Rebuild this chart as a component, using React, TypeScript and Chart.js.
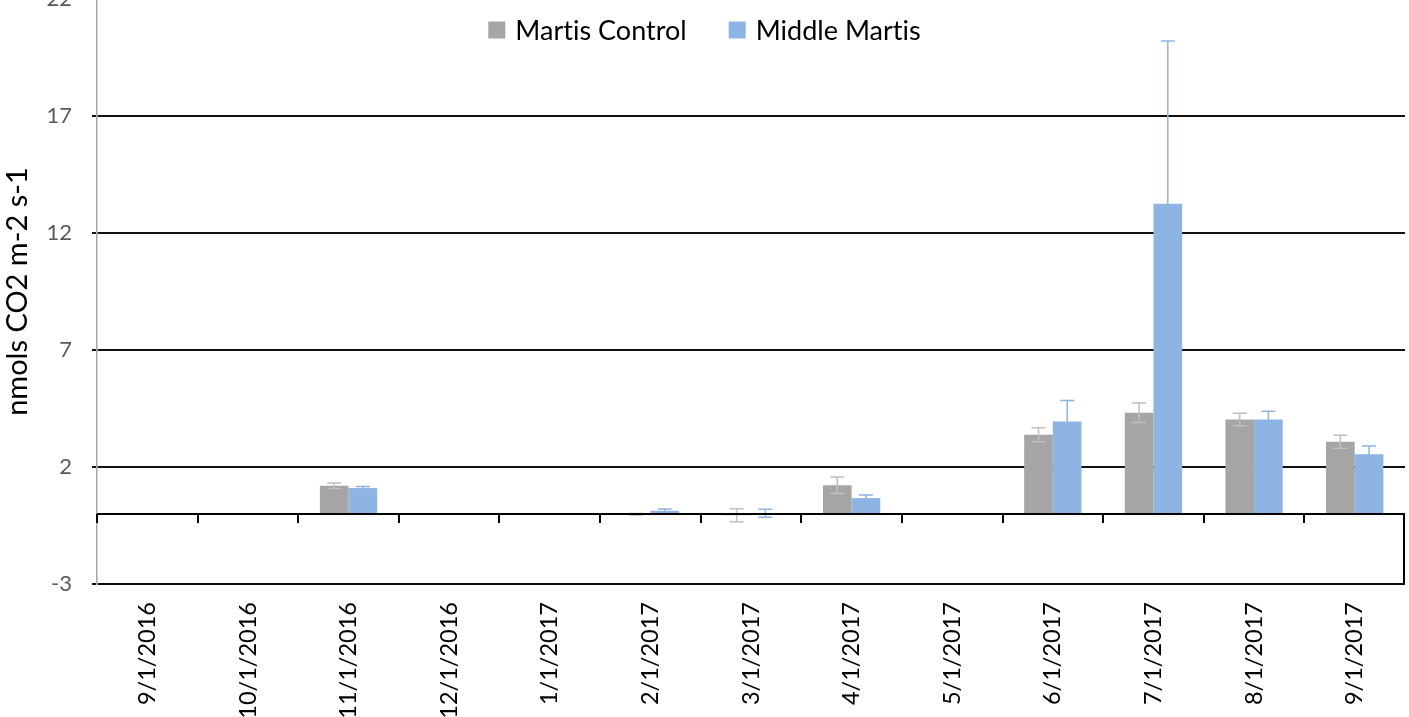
import React, { useEffect, useRef } from "react";
import { Chart, registerables } from "chart.js";

Chart.register(...registerables);

const categories = [
  "9/1/2016", "10/1/2016", "11/1/2016", "12/1/2016", "1/1/2017", "2/1/2017",
  "3/1/2017", "4/1/2017", "5/1/2017", "6/1/2017", "7/1/2017", "8/1/2017", "9/1/2017",
];
const controlValues = [null, null, 1.2, null, null, -0.02, -0.06, 1.22, null, 3.38, 4.32, 4.03, 3.08];
const controlErrors = [null, null, 0.12, null, null, 0.03, 0.28, 0.35, null, 0.3, 0.42, 0.27, 0.28];
const middleValues = [null, null, 1.1, null, null, 0.13, 0.02, 0.67, null, 3.94, 13.25, 4.03, 2.54];
const middleErrors = [null, null, 0.07, null, null, 0.08, 0.17, 0.13, null, 0.9, 6.95, 0.35, 0.36];
const yTicks = [-3, 2, 7, 12, 17, 22];

const OFFSET = 20;
const GRAY = "#a5a5a5";
const BLUE = "#8eb4e3";

const errorBarsPlugin = {
  id: "errorBars",
  afterDatasetsDraw(chart: any) {
    const ctx = chart.ctx;
    const yScale = chart.scales.y;
    chart.data.datasets.forEach((ds: any, di: number) => {
      const meta = chart.getDatasetMeta(di);
      const errs = ds.errors as (number | null)[];
      ctx.save();
      ctx.strokeStyle = ds.errorColor;
      ctx.lineWidth = 1.5;
      meta.data.forEach((bar: any, j: number) => {
        const v = ds.data[j];
        const e = errs[j];
        if (v == null || e == null) return;
        const x = bar.x;
        const yt = yScale.getPixelForValue(v + e);
        const yb = yScale.getPixelForValue(v - e);
        const cap = 7;
        ctx.beginPath();
        ctx.moveTo(x, yt);
        ctx.lineTo(x, yb);
        ctx.moveTo(x - cap, yt);
        ctx.lineTo(x + cap, yt);
        ctx.moveTo(x - cap, yb);
        ctx.lineTo(x + cap, yb);
        ctx.stroke();
      });
      ctx.restore();
    });
  },
};

const zeroAxisPlugin = {
  id: "zeroAxis",
  afterDatasetsDraw(chart: any) {
    const ctx = chart.ctx;
    const { left, right, bottom } = chart.chartArea;
    const xScale = chart.scales.x;
    const y0 = Math.round(chart.scales.y.getPixelForValue(0));
    const n = chart.data.labels.length;
    const cat = xScale.getPixelForValue(1) - xScale.getPixelForValue(0);
    const start = xScale.getPixelForValue(0) - cat / 2;
    ctx.save();
    ctx.strokeStyle = "#000";
    ctx.lineWidth = 2;
    ctx.beginPath();
    ctx.moveTo(left, y0);
    ctx.lineTo(right, y0);
    ctx.stroke();
    ctx.beginPath();
    for (let i = 0; i < n; i++) {
      const x = Math.round(start + i * cat);
      ctx.moveTo(x, y0);
      ctx.lineTo(x, y0 + 9);
    }
    const xr = Math.round(start + n * cat) - 1;
    ctx.moveTo(xr, y0);
    ctx.lineTo(xr, bottom);
    ctx.stroke();
    ctx.restore();
  },
};

const legendPlugin = {
  id: "customLegend",
  afterDraw(chart: any) {
    const ctx = chart.ctx;
    ctx.save();
    ctx.font = "27px Lato";
    try {
      (ctx as any).letterSpacing = "0.01px";
    } catch (e) {}
    ctx.textBaseline = "middle";
    ctx.fillStyle = "#000";
    const box = 17;
    const gapText = 10;
    const gapItem = 42;
    const items = chart.data.datasets.map((ds: any) => ({
      text: ds.label,
      color: ds.backgroundColor,
      w: ctx.measureText(ds.label).width,
    }));
    const total =
      items.reduce((s: number, it: any) => s + box + gapText + it.w, 0) + gapItem * (items.length - 1);
    let x = chart.width / 2 - total / 2;
    const cy = 30 + OFFSET;
    items.forEach((it: any) => {
      ctx.fillStyle = it.color;
      ctx.fillRect(x, cy - box / 2, box, box);
      x += box + gapText;
      ctx.fillStyle = "#000";
      ctx.fillText(it.text, x, cy + 1);
      x += it.w + gapItem;
    });
    ctx.restore();
  },
};

export default function App() {
  const ref = useRef<HTMLCanvasElement | null>(null);

  useEffect(() => {
    if (!ref.current) return;
    const chart = new Chart(ref.current, {
      type: "bar",
      data: {
        labels: categories,
        datasets: [
          {
            label: "Martis Control",
            data: controlValues as any,
            backgroundColor: GRAY,
            categoryPercentage: 0.57,
            barPercentage: 1,
            errors: controlErrors,
            errorColor: "#bfbfbf",
          } as any,
          {
            label: "Middle Martis",
            data: middleValues as any,
            backgroundColor: BLUE,
            categoryPercentage: 0.57,
            barPercentage: 1,
            errors: middleErrors,
            errorColor: BLUE,
          } as any,
        ],
      },
      options: {
        responsive: false,
        animation: false,
        layout: { padding: { top: OFFSET - 1, right: 4, left: 0, bottom: 0 } },
        plugins: { legend: { display: false }, tooltip: { enabled: false } },
        scales: {
          x: {
            grid: { display: false, drawTicks: false },
            border: { display: false },
            ticks: {
              minRotation: 90,
              maxRotation: 90,
              autoSkip: false,
              padding: 18,
              color: "#000",
              font: { family: "Lato", size: 23.5 },
            },
            afterFit: (s: any) => {
              s.height = 133;
            },
          },
          y: {
            min: -3,
            max: 22,
            afterBuildTicks: (s: any) => {
              s.ticks = yTicks.map((v) => ({ value: v }));
            },
            grid: { color: "#111", lineWidth: 2, tickLength: 5 },
            border: { display: true, color: "#a6a6a6", width: 1.5 },
            ticks: { padding: 20, color: "#595959", font: { family: "Lato", size: 22 } },
            title: {
              display: true,
              text: "nmols CO2 m-2 s-1",
              color: "#000",
              font: { family: "Lato", size: 29 },
              padding: { top: 0, bottom: 0 },
            },
            afterFit: (s: any) => {
              s.width = 97;
              s.paddingTop = 0;
              s.paddingBottom = 0;
            },
          },
        },
      },
      plugins: [errorBarsPlugin, zeroAxisPlugin, legendPlugin],
    });
    return () => chart.destroy();
  }, []);

  return (
    <div
      style={{
        position: "fixed",
        left: 0,
        top: 0,
        width: 1409,
        height: 717,
        overflow: "hidden",
        background: "#fff",
      }}
    >
      <canvas
        ref={ref}
        width={1409}
        height={717 + OFFSET}
        style={{ position: "absolute", left: 0, top: -OFFSET, width: 1409, height: 717 + OFFSET }}
      />
    </div>
  );
}
